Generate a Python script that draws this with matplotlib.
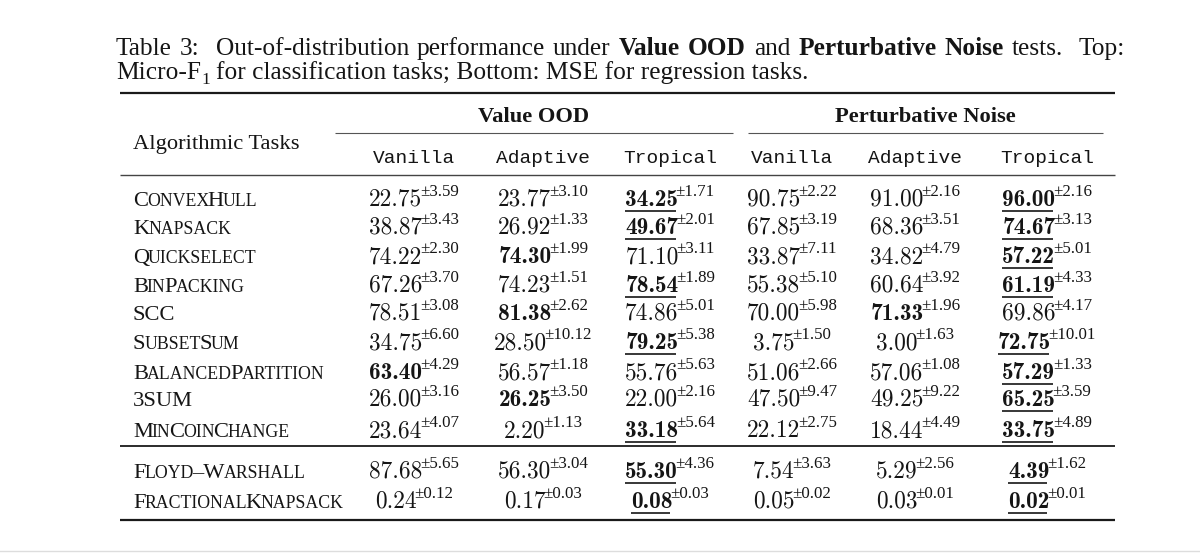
import matplotlib

matplotlib.use("Agg")
import matplotlib.pyplot as plt

SERIF = "Liberation Serif"
MONO = "Liberation Mono"
NUM = "cmr10"
NUM_BOLD = "cmb10"
INK = "#151515"

# ---- table content -------------------------------------------------------
groups = ["Value OOD", "Perturbative Noise"]
methods = ["Vanilla", "Adaptive", "Tropical"]

cls_tasks = ["ConvexHull", "Knapsack", "Quickselect", "BinPacking", "SCC",
             "SubsetSum", "BalancedPartition", "3SUM", "MinCoinChange"]
reg_tasks = ["Floyd\u2013Warshall", "FractionalKnapsack"]

# one list per column, rows follow cls_tasks + reg_tasks
ood_vanilla = [22.75, 38.87, 74.22, 67.26, 78.51, 34.75, 63.40, 26.00, 23.64, 87.68, 0.24]
ood_vanilla_sd = [3.59, 3.43, 2.30, 3.70, 3.08, 6.60, 4.29, 3.16, 4.07, 5.65, 0.12]
ood_adaptive = [23.77, 26.92, 74.30, 74.23, 81.38, 28.50, 56.57, 26.25, 2.20, 56.30, 0.17]
ood_adaptive_sd = [3.10, 1.33, 1.99, 1.51, 2.62, 10.12, 1.18, 3.50, 1.13, 3.04, 0.03]
ood_tropical = [34.25, 49.67, 71.10, 78.54, 74.86, 79.25, 55.76, 22.00, 33.18, 55.30, 0.08]
ood_tropical_sd = [1.71, 2.01, 3.11, 1.89, 5.01, 5.38, 5.63, 2.16, 5.64, 4.36, 0.03]
pn_vanilla = [90.75, 67.85, 33.87, 55.38, 70.00, 3.75, 51.06, 47.50, 22.12, 7.54, 0.05]
pn_vanilla_sd = [2.22, 3.19, 7.11, 5.10, 5.98, 1.50, 2.66, 9.47, 2.75, 3.63, 0.02]
pn_adaptive = [91.00, 68.36, 34.82, 60.64, 71.33, 3.00, 57.06, 49.25, 18.44, 5.29, 0.03]
pn_adaptive_sd = [2.16, 3.51, 4.79, 3.92, 1.96, 1.63, 1.08, 9.22, 4.49, 2.56, 0.01]
pn_tropical = [96.00, 74.67, 57.22, 61.19, 69.86, 72.75, 57.29, 65.25, 33.75, 4.39, 0.02]
pn_tropical_sd = [2.16, 3.13, 5.01, 4.33, 4.17, 10.01, 1.33, 3.59, 4.89, 1.62, 0.01]

# 0 = plain, 1 = bold, 2 = bold + underline
ood_vanilla_hl = [0, 0, 0, 0, 0, 0, 1, 0, 0, 0, 0]
ood_adaptive_hl = [0, 0, 1, 0, 1, 0, 0, 1, 0, 0, 0]
ood_tropical_hl = [2, 2, 0, 2, 0, 2, 0, 0, 2, 2, 2]
pn_vanilla_hl = [0, 0, 0, 0, 0, 0, 0, 0, 0, 0, 0]
pn_adaptive_hl = [0, 0, 0, 0, 1, 0, 0, 0, 0, 0, 0]
pn_tropical_hl = [2, 2, 2, 2, 0, 2, 2, 2, 2, 2, 2]

columns = [
    (ood_vanilla, ood_vanilla_sd, ood_vanilla_hl),
    (ood_adaptive, ood_adaptive_sd, ood_adaptive_hl),
    (ood_tropical, ood_tropical_sd, ood_tropical_hl),
    (pn_vanilla, pn_vanilla_sd, pn_vanilla_hl),
    (pn_adaptive, pn_adaptive_sd, pn_adaptive_hl),
    (pn_tropical, pn_tropical_sd, pn_tropical_hl),
]

# ---- layout (pixels) -----------------------------------------------------
W, H = 1200, 554
col_x = [414, 543, 670, 792, 915, 1047]
group_x = [534, 925]
group_span = [(335, 733), (748, 1103)]
row_y = [206, 234, 263, 292, 320, 349, 379, 406, 437, 478, 508]

fig = plt.figure(figsize=(W / 100, H / 100), dpi=100)
ax = fig.add_axes([0, 0, 1, 1])
ax.set_xlim(0, W)
ax.set_ylim(H, 0)
ax.axis("off")
renderer = fig.canvas.get_renderer()


def put(x, y, s, **kw):
    kw.setdefault("color", INK)
    t = ax.text(x, y, s, va="baseline", ha="left", **kw)
    return t, t.get_window_extent(renderer).width


def measure(s, **kw):
    t, w = put(0, 0, s, **kw)
    t.remove()
    return w


def space_width(**kw):
    return measure("x x", **kw) - measure("xx", **kw)


def runs(x, y, parts, right=None):
    # parts: (text, style, dy); text None is an inter-word space
    widths = []
    for s, kw, dy in parts:
        widths.append(space_width(**kw) if s is None else measure(s, **kw))
    extra = 0.0
    if right is not None:
        n_sp = sum(1 for s, _, _ in parts if s is None)
        extra = (right - x - sum(widths)) / max(n_sp, 1)
    for (s, kw, dy), w in zip(parts, widths):
        if s is None:
            x += w + extra
            continue
        put(x, y + dy, s, **kw)
        x += w


def smallcaps(x, y, name, big=16.2, small=12.8):
    chunks = []
    for ch in name:
        lower = ch.islower()
        if chunks and chunks[-1][1] == lower:
            chunks[-1][0] += ch
        else:
            chunks.append([ch, lower])
    for s, lower in chunks:
        _, w = put(x, y, s.upper(), family=SERIF,
                   fontsize=small if lower else big)
        x += w - 1.2


def cell(cx, y, mean, sd, hl):
    t1, w1 = put(0, y, f"{mean:.2f}", family=NUM_BOLD if hl else NUM,
                 fontsize=16.8)
    t2, w2 = put(0, y - 10, f"\u00b1{sd:.2f}", family=SERIF, fontsize=12.2)
    w1 -= 2.5
    x0 = cx - (w1 + w2) / 2
    t1.set_x(x0)
    t2.set_x(x0 + w1)
    if hl == 2:
        ax.plot([x0, x0 + w1], [y + 4.5, y + 4.5], color=INK, lw=1.2,
                solid_capstyle="butt")


# ---- caption -------------------------------------------------------------
cap = dict(family=SERIF, fontsize=18.3)
capb = dict(family=SERIF, fontsize=18.3, weight="bold")
sp = (None, cap, 0)
runs(116, 55, [
    ("Table", cap, 0), sp, ("3:", cap, 0), sp, sp,
    ("Out-of-distribution", cap, 0), sp, ("performance", cap, 0), sp,
    ("under", cap, 0), sp, ("Value", capb, 0), sp, ("OOD", capb, 0), sp,
    ("and", cap, 0), sp, ("Perturbative", capb, 0), sp, ("Noise", capb, 0), sp,
    ("tests.", cap, 0), sp, sp, ("Top:", cap, 0),
], right=1125)
runs(116, 79, [
    ("Micro-F", cap, 0), ("1", dict(family=SERIF, fontsize=12.5), 5), sp,
    ("for classification tasks; Bottom: MSE for regression tasks.", cap, 0),
])


# ---- rules ---------------------------------------------------------------
def rule(y, x1=120, x2=1115, lw=1.5, color="#1a1a1a"):
    ax.plot([x1, x2], [y, y], color=color, lw=lw, solid_capstyle="butt")


rule(93, lw=1.6)
for x1, x2 in group_span:
    rule(133, x1, x2, lw=0.8, color="#555555")
rule(175, lw=1.0, color="#444444")
rule(446, lw=1.3)
rule(520, lw=1.6)
ax.plot([0, W], [551, 551], color="#dddddd", lw=1.0)

# ---- header --------------------------------------------------------------
for gx, g in zip(group_x, groups):
    ax.text(gx, 122, g, ha="center", va="baseline", family=SERIF,
            fontsize=16.2, weight="bold", color=INK)
put(133, 149, "Algorithmic Tasks", family=SERIF, fontsize=16.2)
for i, hx in enumerate(col_x):
    ax.text(hx, 163, methods[i % 3], ha="center", va="baseline",
            family=MONO, fontsize=14, color=INK)

# ---- body ----------------------------------------------------------------
for r, name in enumerate(cls_tasks + reg_tasks):
    y = row_y[r]
    smallcaps(133, y, name)
    for c, (means, sds, hls) in enumerate(columns):
        cell(col_x[c], y, means[r], sds[r], hls[r])

fig.savefig("out.png", dpi=100)
